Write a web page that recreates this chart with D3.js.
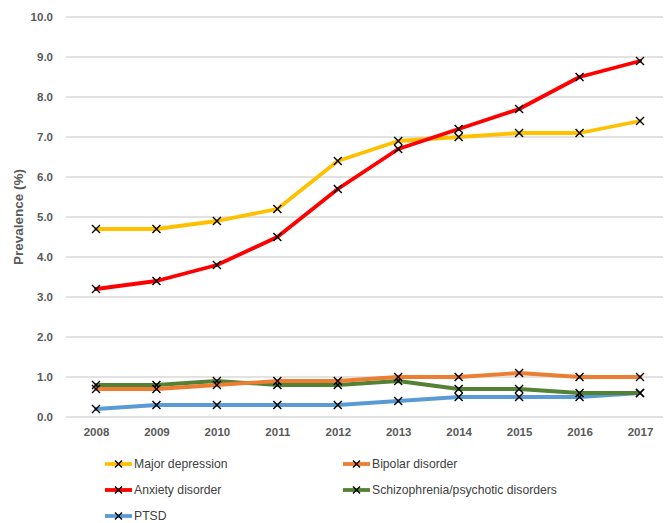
<!DOCTYPE html>
<html>
<head>
<meta charset="utf-8">
<script src="https://cdn.jsdelivr.net/npm/d3@7"></script>
<style>
  html, body { margin: 0; padding: 0; background: #fff; }
  svg { display: block; font-family: "Liberation Sans", Arial, sans-serif; }
</style>
</head>
<body>
<svg id="chart" width="665" height="523"></svg>
<script>
// Prevalence of mental disorders by year
const years = ["2008","2009","2010","2011","2012","2013","2014","2015","2016","2017"];
const majorDepression = [4.7, 4.7, 4.9, 5.2, 6.4, 6.9, 7.0, 7.1, 7.1, 7.4];
const bipolarDisorder = [0.7, 0.7, 0.8, 0.9, 0.9, 1.0, 1.0, 1.1, 1.0, 1.0];
const anxietyDisorder = [3.2, 3.4, 3.8, 4.5, 5.7, 6.7, 7.2, 7.7, 8.5, 8.9];
const schizophrenia   = [0.8, 0.8, 0.9, 0.8, 0.8, 0.9, 0.7, 0.7, 0.6, 0.6];
const ptsd            = [0.2, 0.3, 0.3, 0.3, 0.3, 0.4, 0.5, 0.5, 0.5, 0.6];
const yTicks = [0, 1, 2, 3, 4, 5, 6, 7, 8, 9, 10];

const series = [
  { name: "Major depression", values: majorDepression, color: "#FFC000" },
  { name: "Bipolar disorder", values: bipolarDisorder, color: "#ED7D31" },
  { name: "Anxiety disorder", values: anxietyDisorder, color: "#FF0000" },
  { name: "Schizophrenia/psychotic disorders", values: schizophrenia, color: "#548235" },
  { name: "PTSD", values: ptsd, color: "#5B9BD5" }
];
// drawing order: later series on top
const drawOrder = [4, 3, 1, 0, 2];

const svg = d3.select("#chart");
const plot = { left: 66, right: 663, top: 17, bottom: 417 };

const x = d3.scalePoint().domain(years).range([96, 640]);
const y = d3.scaleLinear().domain([0, 10]).range([plot.bottom, plot.top]);

// gridlines
svg.append("g").selectAll("line").data(yTicks).join("line")
  .attr("x1", plot.left).attr("x2", plot.right)
  .attr("y1", d => y(d)).attr("y2", d => y(d))
  .attr("stroke", "#d9d9d9").attr("stroke-width", 1.3);

// y axis labels
const yAxis = svg.append("g").attr("transform", `translate(${plot.left},0)`)
  .call(d3.axisLeft(y).tickValues(yTicks).tickFormat(d3.format(".1f")).tickSize(0).tickPadding(13));
yAxis.select(".domain").remove();
yAxis.selectAll("text").attr("fill", "#595959").attr("font-size", 11.5).attr("font-weight", "bold")
  .attr("font-family", "'Liberation Sans', Arial, sans-serif");

// x axis labels
const xAxis = svg.append("g").attr("transform", `translate(0,${plot.bottom})`)
  .call(d3.axisBottom(x).tickSize(0).tickPadding(11));
xAxis.select(".domain").remove();
xAxis.selectAll("text").attr("fill", "#595959").attr("font-size", 11.5).attr("font-weight", "bold")
  .attr("font-family", "'Liberation Sans', Arial, sans-serif");

// y axis title
svg.append("text")
  .attr("transform", "translate(23,217) rotate(-90)")
  .attr("text-anchor", "middle")
  .attr("fill", "#595959").attr("font-size", 13.5).attr("font-weight", "bold")
  .text("Prevalence (%)");

const line = d3.line().x((d, i) => x(years[i])).y(d => y(d));

function xMarker(g, cx, cy, s) {
  g.append("path")
    .attr("d", `M${cx - s},${cy - s}L${cx + s},${cy + s}M${cx - s},${cy + s}L${cx + s},${cy - s}`)
    .attr("stroke", "#000").attr("stroke-width", 1.4).attr("fill", "none");
}

drawOrder.forEach(k => {
  const s = series[k];
  const g = svg.append("g");
  g.append("path").datum(s.values)
    .attr("d", line)
    .attr("fill", "none").attr("stroke", s.color).attr("stroke-width", 3.8)
    .attr("stroke-linejoin", "round").attr("stroke-linecap", "round");
  s.values.forEach((v, i) => xMarker(g, x(years[i]), y(v), 4));
});

// legend
const legendPos = [
  [105, 464], [343, 464],
  [105, 490], [343, 490],
  [105, 516]
];
series.forEach((s, i) => {
  const [lx, ly] = legendPos[i];
  const g = svg.append("g");
  g.append("line").attr("x1", lx).attr("x2", lx + 27).attr("y1", ly).attr("y2", ly)
    .attr("stroke", s.color).attr("stroke-width", 3.8);
  xMarker(g, lx + 13.5, ly, 3.5);
  g.append("text").attr("x", lx + 29).attr("y", ly).attr("dy", "0.35em")
    .attr("fill", "#404040").attr("font-size", 12.2)
    .text(s.name);
});
</script>
</body>
</html>
